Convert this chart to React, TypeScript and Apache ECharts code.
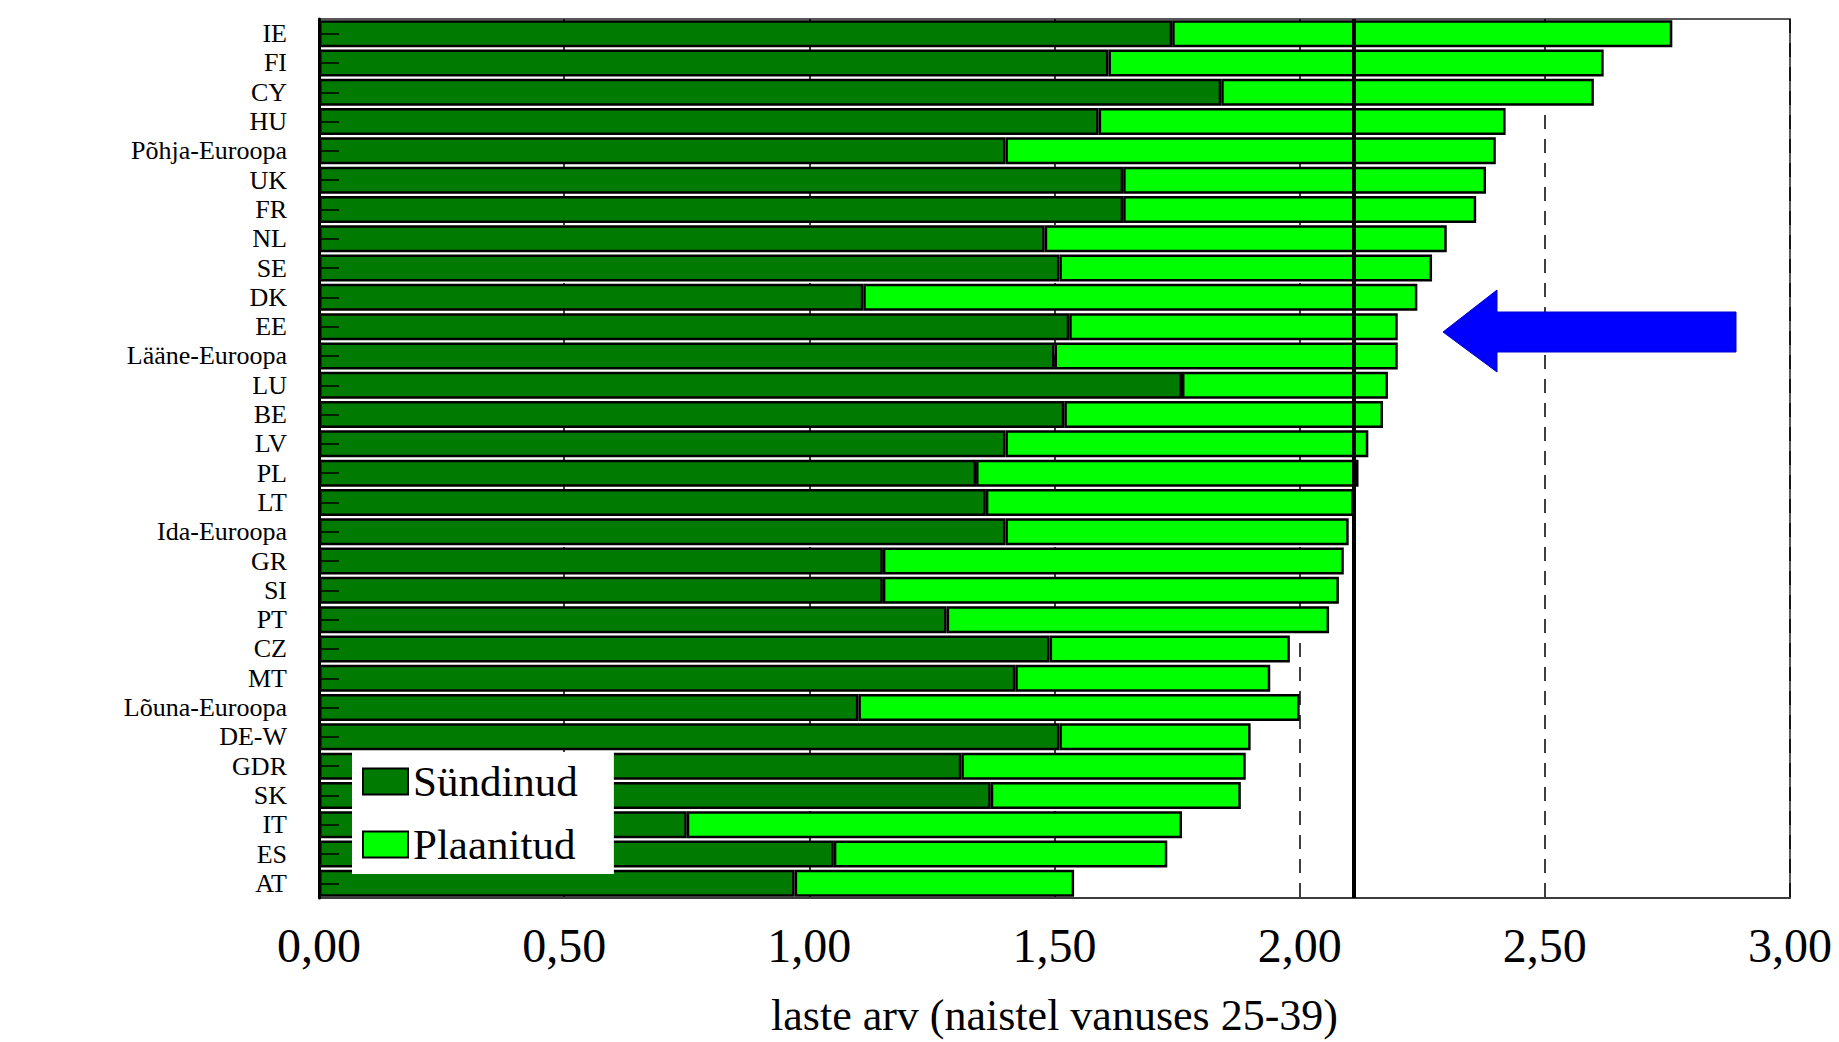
import React, { useEffect, useRef } from "react";
import * as echarts from "echarts";

const categories = [
  "IE", "FI", "CY", "HU", "Põhja-Euroopa", "UK", "FR", "NL", "SE", "DK",
  "EE", "Lääne-Euroopa", "LU", "BE", "LV", "PL", "LT", "Ida-Euroopa", "GR", "SI",
  "PT", "CZ", "MT", "Lõuna-Euroopa", "DE-W", "GDR", "SK", "IT", "ES", "AT",
];

// Sündinud (born children)
const born = [
  1.74, 1.61, 1.84, 1.59, 1.40, 1.64, 1.64, 1.48, 1.51, 1.11,
  1.53, 1.50, 1.76, 1.52, 1.40, 1.34, 1.36, 1.40, 1.15, 1.15,
  1.28, 1.49, 1.42, 1.10, 1.51, 1.31, 1.37, 0.75, 1.05, 0.97,
];

// Plaanitud (additionally planned children)
const planned = [
  1.02, 1.01, 0.76, 0.83, 1.00, 0.74, 0.72, 0.82, 0.76, 1.13,
  0.67, 0.70, 0.42, 0.65, 0.74, 0.78, 0.75, 0.70, 0.94, 0.93,
  0.78, 0.49, 0.52, 0.90, 0.39, 0.58, 0.51, 1.01, 0.68, 0.57,
];

const referenceLevel = 2.11;
const xTicks = { min: 0, max: 3, interval: 0.5 };

const FONT = "'Liberation Serif', 'DejaVu Serif', serif";

export default function App() {
  const ref = useRef<HTMLDivElement>(null);

  useEffect(() => {
    if (!ref.current) return;
    const chart = echarts.init(ref.current, undefined, { renderer: "svg" });
    const option: any = {
      animation: false,
      backgroundColor: "#ffffff",
      grid: {
        left: 319,
        right: 49,
        top: 19,
        bottom: 121,
        show: true,
        borderColor: "#222",
        borderWidth: 1.5,
        backgroundColor: "transparent",
      },
      legend: {
        orient: "vertical",
        left: 352,
        top: 752,
        backgroundColor: "#ffffff",
        padding: [8, 36, 8, 10],
        itemWidth: 45,
        itemHeight: 26,
        itemGap: 20,
        icon: "rect",
        textStyle: { fontFamily: FONT, fontSize: 43, color: "#000" },
        data: ["Sündinud", "Plaanitud"],
      },
      xAxis: {
        type: "value",
        min: xTicks.min,
        max: xTicks.max,
        interval: xTicks.interval,
        z: 0,
        axisLine: { show: true, lineStyle: { color: "#333", width: 1.5 } },
        axisTick: { show: false },
        axisLabel: {
          fontFamily: FONT,
          fontSize: 48,
          color: "#000",
          margin: 23,
          formatter: (v: number) => v.toFixed(2).replace(".", ","),
        },
        splitLine: {
          show: true,
          lineStyle: { color: "#000", width: 1.5, type: [14, 10] },
        },
        name: "laste arv (naistel vanuses 25-39)",
        nameLocation: "middle",
        nameGap: 95,
        nameTextStyle: { fontFamily: FONT, fontSize: 44, color: "#000" },
      },
      yAxis: {
        type: "category",
        data: categories,
        inverse: true,
        z: 10,
        axisLine: { show: true, lineStyle: { color: "#000", width: 3 } },
        axisTick: {
          show: true,
          inside: true,
          alignWithLabel: true,
          length: 20,
          lineStyle: { color: "#000", width: 1.5 },
        },
        axisLabel: {
          interval: 0,
          fontFamily: FONT,
          fontSize: 26,
          lineHeight: 27,
          color: "#000",
          margin: 32,
        },
        splitLine: { show: false },
      },
      series: [
        {
          name: "Sündinud",
          type: "bar",
          stack: "total",
          data: born,
          barCategoryGap: "8%",
          itemStyle: { color: "#007A00", borderColor: "#000", borderWidth: 2.5 },
        },
        {
          name: "Plaanitud",
          type: "bar",
          stack: "total",
          data: planned,
          barCategoryGap: "8%",
          itemStyle: { color: "#00FF00", borderColor: "#000", borderWidth: 2.5 },
          markLine: {
            silent: true,
            symbol: "none",
            label: { show: false },
            lineStyle: { color: "#000", width: 4, type: "solid" },
            data: [{ xAxis: referenceLevel }],
          },
        },
      ],
      graphic: [
        {
          type: "polygon",
          shape: {
            points: [
              [1443, 332],
              [1497, 290],
              [1497, 312],
              [1736, 312],
              [1736, 352],
              [1497, 352],
              [1497, 372],
            ],
          },
          style: { fill: "#0000FF", stroke: "#0000CC", lineWidth: 1 },
          z: 20,
        },
      ],
    };
    chart.setOption(option);
    return () => chart.dispose();
  }, []);

  return (
    <div
      ref={ref}
      style={{ position: "fixed", left: 0, top: 0, width: 1839, height: 1042 }}
    />
  );
}
